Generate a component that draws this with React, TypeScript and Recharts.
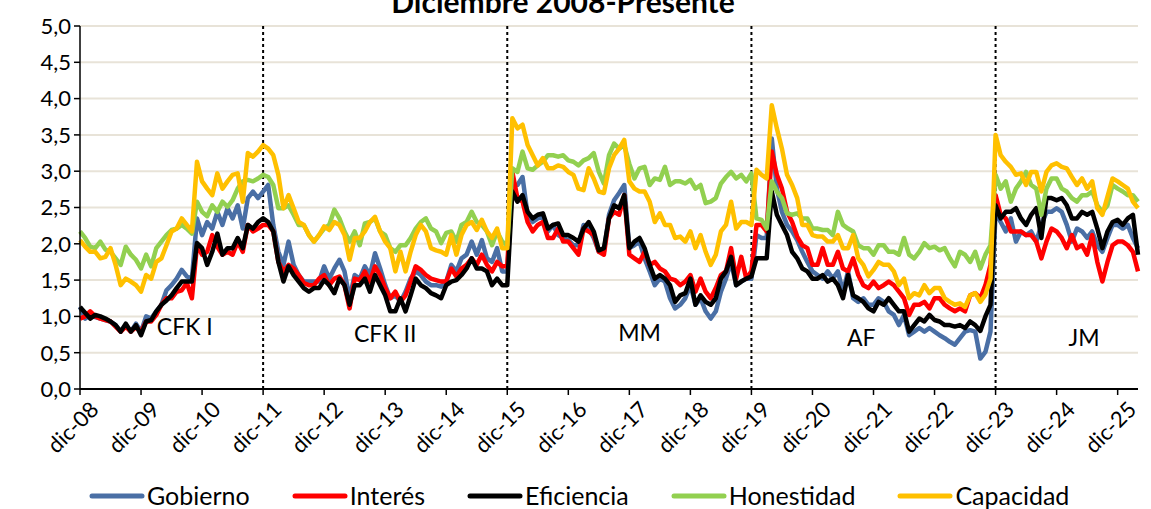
import React from 'react'
import {
  LineChart,
  Line,
  XAxis,
  YAxis,
  CartesianGrid,
  ReferenceLine,
  ReferenceDot,
  Legend,
} from 'recharts'

// Índice mensual, desde dic-08 hasta abr-26 (una fila por año, empezando en diciembre)
const gobierno = [
  1.13, 0.97, 1.02, 0.99, 0.97, 0.95, 0.93, 0.88, 0.79, 0.88, 0.79, 0.90,
  0.79, 1.00, 0.97, 1.07, 1.16, 1.36, 1.43, 1.52, 1.64, 1.55, 1.52, 2.35,
  2.12, 2.30, 2.21, 2.44, 2.26, 2.49, 2.35, 2.53, 2.21, 2.63, 2.72, 2.63,
  2.72, 2.81, 2.26, 1.89, 1.71, 2.03, 1.71, 1.57, 1.48, 1.48, 1.48, 1.48,
  1.69, 1.52, 1.66, 1.78, 1.62, 1.25, 1.57, 1.52, 1.69, 1.57, 1.87, 1.66,
  1.43, 1.25, 1.29, 1.20, 1.34, 1.52, 1.62, 1.57, 1.48, 1.43, 1.43, 1.41,
  1.48, 1.71, 1.62, 1.80, 1.85, 2.03, 1.85, 2.05, 1.80, 1.75, 1.94, 1.62,
  1.62, 2.81, 2.81, 2.92, 2.40, 2.30, 2.35, 2.37, 2.17, 2.26, 2.12, 2.08,
  2.05, 1.98, 1.98, 2.26, 2.21, 2.08, 1.89, 1.89, 2.40, 2.60, 2.70, 2.81,
  1.94, 1.98, 2.03, 1.80, 1.62, 1.43, 1.52, 1.48, 1.25, 1.11, 1.16, 1.25,
  1.43, 1.16, 1.25, 1.07, 0.97, 1.07, 1.34, 1.52, 1.75, 1.43, 1.48, 1.52,
  1.52, 2.12, 2.08, 2.08, 3.45, 2.76, 2.44, 2.26, 2.17, 2.05, 1.89, 1.75,
  1.62, 1.57, 1.52, 1.62, 1.52, 1.62, 1.34, 1.62, 1.25, 1.20, 1.25, 1.16,
  1.16, 1.25, 1.20, 1.07, 1.02, 0.88, 1.02, 0.74, 0.79, 0.84, 0.79, 0.84,
  0.79, 0.74, 0.70, 0.65, 0.61, 0.70, 0.79, 0.81, 0.79, 0.42, 0.51, 0.79,
  2.44, 2.30, 2.17, 2.35, 2.03, 2.17, 2.12, 2.17, 2.03, 2.26, 2.44, 2.44,
  2.49, 2.44, 2.26, 2.03, 2.21, 2.17, 2.08, 2.17, 1.98, 1.89, 2.08, 2.26,
  2.26, 2.21, 2.26, 2.08, 1.94,
]

const interes = [
  0.97, 1.00, 1.07, 1.00, 0.97, 0.95, 0.93, 0.86, 0.79, 0.86, 0.79, 0.85,
  0.79, 0.93, 0.93, 1.02, 1.16, 1.25, 1.25, 1.34, 1.36, 1.46, 1.25, 1.98,
  1.85, 1.89, 2.12, 1.96, 1.85, 1.89, 1.85, 2.03, 1.89, 2.26, 2.17, 2.21,
  2.26, 2.26, 2.17, 1.75, 1.62, 1.71, 1.66, 1.57, 1.46, 1.43, 1.43, 1.52,
  1.57, 1.43, 1.52, 1.55, 1.43, 1.11, 1.52, 1.50, 1.62, 1.48, 1.69, 1.57,
  1.39, 1.25, 1.34, 1.20, 1.29, 1.48, 1.69, 1.64, 1.57, 1.52, 1.50, 1.48,
  1.48, 1.66, 1.55, 1.66, 1.71, 1.80, 1.71, 1.85, 1.71, 1.62, 1.75, 1.69,
  1.69, 2.99, 2.63, 2.58, 2.30, 2.17, 2.26, 2.30, 2.08, 2.08, 2.21, 2.03,
  2.03, 1.94, 1.85, 2.21, 2.17, 2.12, 1.89, 1.85, 2.35, 2.44, 2.40, 2.67,
  1.85, 1.80, 1.75, 1.89, 1.71, 1.75, 1.66, 1.62, 1.52, 1.50, 1.43, 1.48,
  1.57, 1.34, 1.52, 1.34, 1.25, 1.39, 1.57, 1.62, 1.94, 1.52, 1.82, 1.52,
  1.62, 2.26, 2.26, 2.17, 3.27, 2.95, 2.76, 2.44, 2.30, 2.10, 1.98, 1.94,
  1.71, 1.71, 1.94, 1.71, 1.71, 1.89, 1.66, 1.62, 1.80, 1.57, 1.43, 1.39,
  1.48, 1.39, 1.43, 1.48, 1.43, 1.34, 1.25, 1.02, 1.16, 1.16, 1.20, 1.11,
  1.25, 1.25, 1.16, 1.11, 1.07, 1.11, 1.07, 1.29, 1.32, 1.25, 1.43, 1.71,
  2.67, 2.40, 2.35, 2.17, 2.17, 2.17, 2.12, 2.12, 2.03, 1.80, 2.03, 2.21,
  2.17, 2.08, 1.94, 2.12, 1.94, 1.98, 1.85, 2.12, 1.75, 1.48, 1.75, 1.98,
  2.03, 2.03, 1.98, 1.89, 1.62,
]

const eficiencia = [
  1.13, 1.05, 0.97, 1.02, 1.00, 0.97, 0.93, 0.88, 0.79, 0.90, 0.79, 0.88,
  0.74, 0.93, 0.95, 1.07, 1.16, 1.22, 1.29, 1.39, 1.48, 1.48, 1.48, 2.01,
  1.94, 1.71, 1.89, 2.14, 1.85, 1.94, 1.94, 2.08, 1.94, 2.26, 2.21, 2.30,
  2.35, 2.30, 2.17, 1.75, 1.48, 1.69, 1.57, 1.48, 1.39, 1.34, 1.39, 1.39,
  1.50, 1.43, 1.32, 1.52, 1.43, 1.16, 1.43, 1.43, 1.52, 1.34, 1.57, 1.43,
  1.29, 1.07, 1.07, 1.25, 1.07, 1.29, 1.52, 1.43, 1.39, 1.32, 1.29, 1.25,
  1.43, 1.48, 1.50, 1.57, 1.66, 1.80, 1.66, 1.66, 1.62, 1.43, 1.52, 1.43,
  1.43, 2.72, 2.58, 2.67, 2.44, 2.35, 2.40, 2.42, 2.21, 2.26, 2.28, 2.12,
  2.12, 2.08, 2.03, 2.21, 2.30, 2.17, 1.91, 1.94, 2.35, 2.53, 2.49, 2.67,
  1.94, 2.03, 2.08, 1.94, 1.71, 1.52, 1.57, 1.52, 1.43, 1.20, 1.29, 1.32,
  1.52, 1.16, 1.29, 1.20, 1.16, 1.25, 1.52, 1.62, 1.82, 1.43, 1.48, 1.52,
  1.55, 1.80, 1.80, 1.80, 2.72, 2.40, 2.26, 2.12, 1.89, 1.80, 1.66, 1.62,
  1.52, 1.52, 1.57, 1.48, 1.52, 1.43, 1.25, 1.57, 1.29, 1.25, 1.20, 1.11,
  1.07, 1.20, 1.16, 1.25, 1.16, 1.07, 1.07, 0.79, 0.88, 0.97, 0.93, 1.02,
  0.95, 0.93, 0.88, 0.88, 0.86, 0.88, 0.84, 0.93, 0.88, 0.80, 1.00, 1.16,
  2.53, 2.35, 2.44, 2.44, 2.49, 2.35, 2.26, 2.40, 2.49, 2.08, 2.63, 2.63,
  2.60, 2.63, 2.53, 2.35, 2.35, 2.44, 2.40, 2.44, 2.21, 1.94, 2.17, 2.30,
  2.33, 2.26, 2.35, 2.40, 1.85,
]

const honestidad = [
  2.17, 2.08, 1.96, 1.94, 2.03, 1.92, 1.89, 1.80, 1.71, 1.96, 1.85, 1.78,
  1.66, 1.85, 1.69, 1.94, 2.03, 2.12, 2.19, 2.21, 2.26, 2.21, 2.14, 2.58,
  2.44, 2.38, 2.53, 2.44, 2.58, 2.51, 2.60, 2.76, 2.86, 2.88, 2.86, 2.90,
  2.95, 2.92, 2.81, 2.49, 2.49, 2.53, 2.40, 2.26, 2.26, 2.12, 2.03, 2.12,
  2.21, 2.26, 2.47, 2.35, 2.17, 2.03, 2.17, 1.98, 2.28, 2.30, 2.35, 2.17,
  2.12, 1.94, 1.89, 1.98, 1.98, 2.08, 2.21, 2.30, 2.35, 2.21, 2.17, 2.01,
  2.15, 2.17, 2.03, 2.26, 2.30, 2.44, 2.30, 2.26, 2.17, 1.98, 2.17, 2.03,
  1.98, 3.04, 2.99, 3.27, 3.04, 3.02, 3.08, 3.13, 3.22, 3.22, 3.20, 3.22,
  3.15, 3.13, 3.08, 3.15, 3.18, 3.25, 2.99, 2.83, 3.22, 3.38, 3.31, 3.36,
  3.10, 2.90, 3.04, 3.06, 2.81, 2.90, 2.88, 3.06, 2.81, 2.86, 2.86, 2.83,
  2.88, 2.76, 2.81, 2.56, 2.58, 2.63, 2.83, 2.92, 2.99, 2.90, 2.95, 2.86,
  2.97, 2.35, 2.33, 2.21, 2.86, 2.72, 2.63, 2.42, 2.40, 2.42, 2.35, 2.35,
  2.21, 2.21, 2.19, 2.19, 2.12, 2.44, 2.26, 2.21, 2.17, 1.98, 1.94, 1.94,
  1.85, 1.98, 1.98, 1.89, 1.89, 1.85, 2.08, 1.85, 1.80, 1.89, 2.01, 1.94,
  1.96, 1.91, 1.94, 1.80, 1.69, 1.89, 1.85, 1.75, 1.89, 1.66, 1.85, 1.98,
  2.95, 2.76, 2.86, 2.58, 2.76, 2.86, 2.99, 2.81, 2.76, 2.40, 2.76, 2.90,
  2.90, 2.76, 2.72, 2.63, 2.58, 2.67, 2.67, 2.72, 2.53, 2.44, 2.53, 2.81,
  2.76, 2.72, 2.67, 2.67, 2.58,
]

const capacidad = [
  2.05, 1.96, 1.89, 1.89, 1.80, 1.82, 1.94, 1.71, 1.43, 1.52, 1.48, 1.43,
  1.34, 1.57, 1.52, 1.75, 1.80, 1.98, 2.17, 2.21, 2.35, 2.26, 2.17, 3.13,
  2.86, 2.76, 2.67, 2.97, 2.76, 2.86, 2.95, 2.97, 2.58, 3.25, 3.20, 3.27,
  3.36, 3.31, 3.22, 2.95, 2.49, 2.67, 2.49, 2.30, 2.26, 2.12, 2.03, 2.12,
  2.24, 2.19, 2.30, 2.26, 2.12, 1.78, 2.08, 2.08, 2.17, 2.30, 2.37, 2.17,
  2.03, 1.94, 1.62, 1.89, 1.62, 1.89, 2.12, 2.26, 2.17, 1.94, 1.91, 1.89,
  1.85, 2.12, 1.85, 2.12, 2.26, 2.30, 2.19, 2.33, 2.17, 2.08, 2.21, 1.94,
  1.94, 3.73, 3.59, 3.64, 3.36, 3.22, 3.08, 3.18, 3.04, 3.04, 3.08, 3.06,
  2.99, 2.95, 2.76, 2.74, 3.04, 2.90, 2.72, 2.70, 3.04, 3.22, 3.31, 3.43,
  2.86, 2.76, 2.72, 2.72, 2.58, 2.30, 2.42, 2.26, 2.26, 2.08, 2.10, 2.03,
  2.17, 1.94, 2.12, 1.89, 1.71, 1.85, 2.17, 2.26, 2.58, 2.21, 2.30, 2.30,
  2.26, 3.02, 2.95, 2.90, 3.91, 3.59, 3.31, 2.95, 2.81, 2.63, 2.26, 2.26,
  2.12, 2.10, 2.10, 2.03, 2.03, 2.12, 1.94, 1.94, 2.12, 1.80, 1.71, 1.55,
  1.64, 1.75, 1.71, 1.71, 1.62, 1.43, 1.52, 1.25, 1.32, 1.29, 1.43, 1.32,
  1.39, 1.39, 1.25, 1.20, 1.16, 1.18, 1.13, 1.29, 1.32, 1.20, 1.30, 1.52,
  3.50, 3.22, 3.13, 3.06, 2.95, 2.97, 2.81, 2.99, 2.99, 2.72, 2.99, 3.08,
  3.11, 3.06, 3.04, 2.92, 2.81, 2.90, 2.76, 2.86, 2.49, 2.40, 2.65, 2.90,
  2.86, 2.81, 2.76, 2.58, 2.49,
]

const MESES = ['dic', 'ene', 'feb', 'mar', 'abr', 'may', 'jun', 'jul', 'ago', 'sep', 'oct', 'nov']
const ANIO_INICIAL = 8

const etiquetas = gobierno.map((_, i) => {
  const anio = ANIO_INICIAL + Math.ceil(i / 12)
  return `${MESES[i % 12]}-${String(anio).padStart(2, '0')}`
})

// ticks anuales (cada diciembre)
const ticksDic = etiquetas.map((_, i) => i).filter((i) => i % 12 === 0)

// cambios de gobierno: dic-11, dic-15, dic-19, dic-23
const cambios = ['dic-11', 'dic-15', 'dic-19', 'dic-23']

const periodos = [
  { nombre: 'CFK I', mes: 20.6, valor: 0.85 },
  { nombre: 'CFK II', mes: 60, valor: 0.76 },
  { nombre: 'MM', mes: 110, valor: 0.78 },
  { nombre: 'AF', mes: 153.6, valor: 0.71 },
  { nombre: 'JM', mes: 197.4, valor: 0.71 },
]

const yTicks = [0, 0.5, 1, 1.5, 2, 2.5, 3, 3.5, 4, 4.5, 5]

const series = [
  { key: 'gobierno', name: 'Gobierno', color: '#4a6fa5' },
  { key: 'interes', name: 'Interés', color: '#ff0000' },
  { key: 'eficiencia', name: 'Eficiencia', color: '#000000' },
  { key: 'honestidad', name: 'Honestidad', color: '#92d050' },
  { key: 'capacidad', name: 'Capacidad', color: '#ffc000' },
]

const data = gobierno.map((g, i) => ({
  i,
  mes: etiquetas[i],
  gobierno: g,
  interes: interes[i],
  eficiencia: eficiencia[i],
  honestidad: honestidad[i],
  capacidad: capacidad[i],
}))

const FONT = 'Lato, "Open Sans", sans-serif'

function XTick({ x, y, payload }: any) {
  const tx = x + 14
  const ty = y + 8
  return (
    <text
      x={tx}
      y={ty}
      transform={`rotate(-45 ${tx} ${ty})`}
      textAnchor="end"
      dominantBaseline="central"
      fontFamily={FONT}
      fontSize={22}
      fill="#000"
    >
      {etiquetas[payload.value]}
    </text>
  )
}

function Leyenda() {
  return (
    <div
      style={{
        display: 'flex',
        alignItems: 'center',
        gap: 42,
        fontFamily: FONT,
        fontSize: 25,
        lineHeight: '27px',
        color: '#000',
      }}
    >
      {series.map((s) => (
        <div key={s.key} style={{ display: 'flex', alignItems: 'center' }}>
          <svg width={56} height={8}>
            <line x1={3} y1={4} x2={53} y2={4} stroke={s.color} strokeWidth={5} strokeLinecap="round" />
          </svg>
          <span style={{ marginLeft: 2 }}>{s.name}</span>
        </div>
      ))}
    </div>
  )
}

export default function App() {
  return (
    <div style={{ position: 'absolute', left: 0, top: 0, width: 1151, height: 509, background: '#fff' }}>
      <LineChart width={1151} height={509} data={data} margin={{ top: 26, right: 13, bottom: 40, left: 0 }}>
        <CartesianGrid vertical={false} stroke="#e8e3d8" strokeWidth={2} />
        <XAxis
          type="number"
          dataKey="i"
          domain={[0, 208]}
          ticks={ticksDic}
          interval={0}
          height={80}
          tick={<XTick />}
          tickSize={6}
          tickMargin={2}
          axisLine={{ stroke: '#000', strokeWidth: 2 }}
          tickLine={{ stroke: '#000', strokeWidth: 1.5 }}
        />
        <YAxis
          width={80}
          domain={[0, 5]}
          ticks={yTicks}
          interval={0}
          tickFormatter={(v: number) => v.toFixed(1).replace('.', ',')}
          tick={{ fontSize: 22, fill: '#000', fontFamily: FONT }}
          tickSize={6}
          tickMargin={3}
          axisLine={{ stroke: '#000', strokeWidth: 1.5 }}
          tickLine={{ stroke: '#000', strokeWidth: 1.5 }}
        />
        {cambios.map((c) => (
          <ReferenceLine
            key={c}
            x={etiquetas.indexOf(c)}
            stroke="#000"
            strokeWidth={2}
            strokeDasharray="3 3"
          />
        ))}
        {series.map((s) => (
          <Line
            key={s.key}
            type="linear"
            dataKey={s.key}
            name={s.name}
            stroke={s.color}
            strokeWidth={4.5}
            strokeLinejoin="round"
            dot={false}
            isAnimationActive={false}
          />
        ))}
        {periodos.map((p) => (
          <ReferenceDot
            key={p.nombre}
            x={p.mes}
            y={p.valor}
            r={0}
            fill="none"
            stroke="none"
            label={{ value: p.nombre, position: 'center', fontSize: 23, fill: '#000', fontFamily: FONT }}
          />
        ))}
        <text
          x={563}
          y={13}
          textAnchor="middle"
          fontFamily={FONT}
          fontWeight="bold"
          fontSize={30}
          fill="#000"
        >
          Diciembre 2008-Presente
        </text>
        <Legend
          verticalAlign="middle"
          align="center"
          layout="horizontal"
          wrapperStyle={{ top: 482, left: 89, width: 1062 }}
          content={() => <Leyenda />}
        />
      </LineChart>
    </div>
  )
}
